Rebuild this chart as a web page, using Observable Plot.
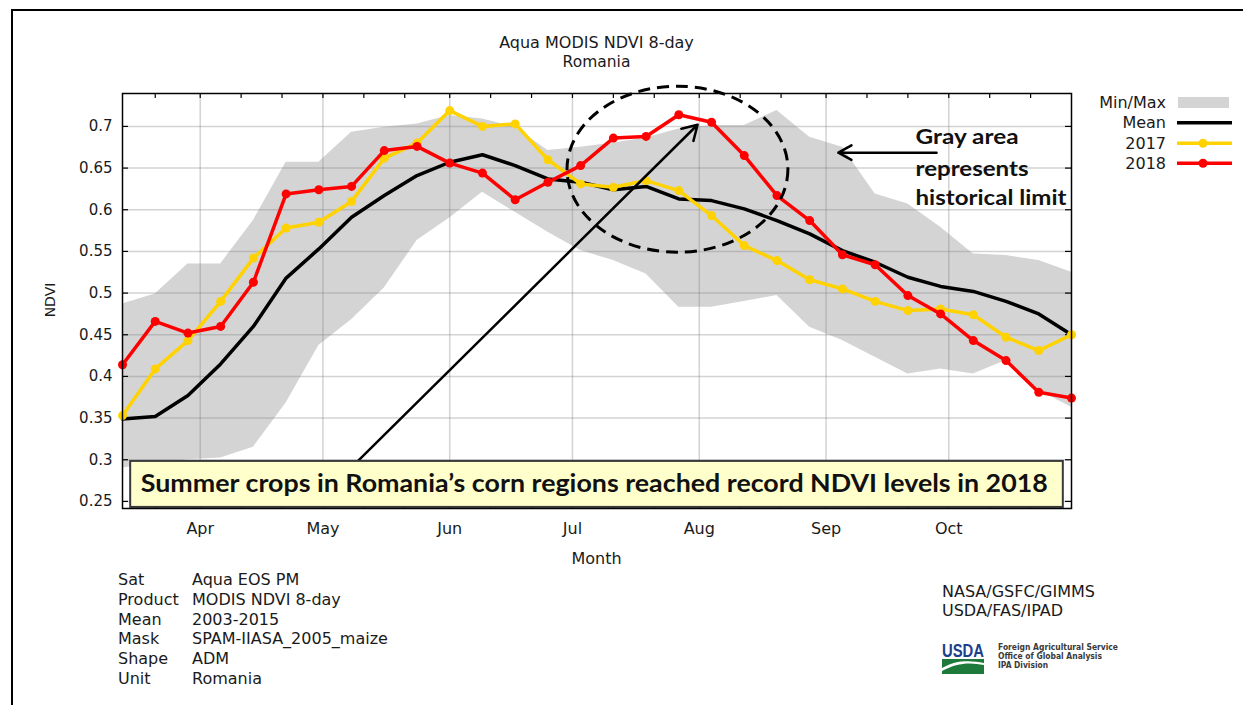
<!DOCTYPE html>
<html><head><meta charset="utf-8">
<script src="https://cdn.jsdelivr.net/npm/d3@7"></script>
<script src="https://cdn.jsdelivr.net/npm/@observablehq/plot@0.6"></script>
<style>
html,body{margin:0;padding:0;background:#fff;}
#wrap{position:relative;width:1243px;height:705px;overflow:hidden;background:#fff;}
#wrap > svg{position:absolute;left:0;top:0;}
#border{position:absolute;left:11px;top:9px;right:-5px;bottom:-5px;border-top:2.5px solid #000;border-left:2.5px solid #000;pointer-events:none;}
</style></head><body><div id="wrap"></div>
<script>
// ---- data ----
const dates = ["2018-03-13","2018-03-21","2018-03-29","2018-04-06","2018-04-14","2018-04-22","2018-04-30","2018-05-08","2018-05-16","2018-05-24",
  "2018-06-01","2018-06-09","2018-06-17","2018-06-25","2018-07-03","2018-07-11","2018-07-19","2018-07-27","2018-08-04","2018-08-12",
  "2018-08-20","2018-08-28","2018-09-05","2018-09-13","2018-09-21","2018-09-29","2018-10-07","2018-10-15","2018-10-23","2018-10-31"];
const meanNDVI = [0.349,0.352,0.377,0.415,0.460,0.518,0.553,0.591,0.617,0.641,0.657,0.666,0.653,0.637,0.633,0.624,0.628,0.613,0.611,0.601,0.587,0.571,0.551,0.537,0.519,0.508,0.502,0.490,0.475,0.450];
const ndvi2017 = [0.353,0.409,0.443,0.490,0.542,0.578,0.585,0.610,0.662,0.680,0.719,0.700,0.703,0.660,0.631,0.627,0.635,0.623,0.593,0.557,0.539,0.516,0.505,0.490,0.479,0.481,0.474,0.447,0.431,0.450];
const ndvi2018 = [0.414,0.466,0.452,0.460,0.513,0.619,0.624,0.628,0.671,0.676,0.656,0.644,0.612,0.633,0.653,0.686,0.688,0.714,0.705,0.665,0.617,0.587,0.546,0.534,0.497,0.475,0.443,0.419,0.381,0.374];
const histMin = [0.290,0.295,0.300,0.302,0.315,0.368,0.437,0.468,0.506,0.563,0.590,0.621,0.597,0.573,0.551,0.539,0.523,0.483,0.483,0.490,0.497,0.459,0.443,0.423,0.403,0.409,0.403,0.419,0.383,0.363];
const histMax = [0.487,0.499,0.535,0.535,0.587,0.657,0.657,0.693,0.699,0.703,0.713,0.709,0.699,0.671,0.675,0.680,0.686,0.697,0.701,0.701,0.719,0.687,0.675,0.619,0.607,0.579,0.547,0.545,0.539,0.525];
const monthTicks = ["2018-04-01","2018-05-01","2018-06-01","2018-07-01","2018-08-01","2018-09-01","2018-10-01"];
const dekadTicks = ["2018-03-21","2018-04-01","2018-04-11","2018-04-21","2018-05-01","2018-05-11","2018-05-21","2018-06-01","2018-06-11","2018-06-21",
  "2018-07-01","2018-07-11","2018-07-21","2018-08-01","2018-08-11","2018-08-21","2018-09-01","2018-09-11","2018-09-21","2018-10-01","2018-10-11","2018-10-21"];
const yTicks = [0.25,0.3,0.35,0.4,0.45,0.5,0.55,0.6,0.65,0.7];
const xDomain = ["2018-03-13","2018-10-31"];
const yDomain = [0.2415,0.7395];

// annotations (data coordinates)
const bigArrow = [{x1:"2018-05-09T11:00Z", y1:0.298, x2:"2018-07-31T14:00Z", y2:0.702}];
const smallArrow = [{x1:"2018-09-28T00:00Z", y1:0.6685, x2:"2018-09-04T00:00Z", y2:0.6685}];
const ellipseSpec = {cx:"2018-07-26T19:00Z", cy:0.648, left:"2018-06-29T19:00Z", top:0.7476};
const noteBox = [{x1:"2018-03-15T00:00Z", x2:"2018-10-29T00:00Z", y1:0.2428, y2:0.298}];
const noteText = [{x:"2018-07-06T08:00Z", y:0.2608, t:"Summer crops in Romania\u2019s corn regions reached record NDVI levels in 2018", len:907}];
const grayText = [
  {x:"2018-09-22T21:00Z", y:0.679, t:"Gray area", len:103},
  {x:"2018-09-22T21:00Z", y:0.641, t:"represents", len:113},
  {x:"2018-09-22T21:00Z", y:0.606, t:"historical limit", len:151}
];

const P = s => new Date(s);
const rows = dates.map((d,i)=>({date:P(d), mean:meanNDVI[i], y17:ndvi2017[i], y18:ndvi2018[i], lo:histMin[i], hi:histMax[i]}));
const months = monthTicks.map(P), dekads = dekadTicks.map(P);
const A = a => a.map(o => Object.fromEntries(Object.entries(o).map(([k,v]) => [k, (typeof v === "string" && /^\d{4}-/.test(v)) ? P(v) : v])));

const W = 1243, H = 705, ML = 122, MR = 172, MT = 93, MB = 197;
const innerW = W-ML-MR, innerH = H-MT-MB;

const ellipseMark = (index, scales) => {
  const cx = scales.x(P(ellipseSpec.cx)), cy = scales.y(ellipseSpec.cy);
  const rx = cx - scales.x(P(ellipseSpec.left)), ry = scales.y(ellipseSpec.top);
  return d3.create("svg:ellipse").attr("cx",cx).attr("cy",cy).attr("rx",rx).attr("ry",cy-ry)
    .attr("fill","none").attr("stroke","#000").attr("stroke-width",3).attr("stroke-dasharray","12,7").node();
};

const chart = Plot.plot({
  width: W, height: H, marginLeft: ML, marginRight: MR, marginTop: MT, marginBottom: MB,
  style: {fontFamily: "DejaVu Sans, sans-serif", fontSize: "15px", color: "#1a1a1a", background: "transparent"},
  x: {type: "utc", domain: xDomain.map(P), axis: null},
  y: {domain: yDomain, axis: null},
  marks: [
    Plot.areaY(rows, {x:"date", y1:"lo", y2:"hi", fill:"#d4d4d4"}),
    Plot.ruleX(months, {stroke:"#808080", strokeOpacity:0.35, strokeWidth:1.5}),
    Plot.ruleY(yTicks, {stroke:"#808080", strokeOpacity:0.35, strokeWidth:1.5}),
    Plot.tickX(dekads, {x:d=>d, insetBottom: innerH-5, stroke:"#000", strokeWidth:1.2}),
    Plot.tickX(dekads, {x:d=>d, insetTop: innerH-5, stroke:"#000", strokeWidth:1.2}),
    Plot.tickY(yTicks, {y:d=>d, insetRight: innerW-6, stroke:"#000", strokeWidth:1.2}),
    Plot.tickY(yTicks, {y:d=>d, insetLeft: innerW-6, stroke:"#000", strokeWidth:1.2}),
    Plot.line(rows, {x:"date", y:"mean", stroke:"#000", strokeWidth:3.5}),
    Plot.line(rows, {x:"date", y:"y17", stroke:"#ffd200", strokeWidth:3.5}),
    Plot.dot(rows, {x:"date", y:"y17", r:4.5, fill:"#ffd200"}),
    Plot.line(rows, {x:"date", y:"y18", stroke:"#ff0000", strokeWidth:3.5}),
    Plot.dot(rows, {x:"date", y:"y18", r:4.5, fill:"#ff0000"}),
    ellipseMark,
    Plot.arrow(A(bigArrow), {x1:"x1", y1:"y1", x2:"x2", y2:"y2", stroke:"#000", strokeWidth:2.5, headLength:10, headAngle:62}),
    Plot.arrow(A(smallArrow), {x1:"x1", y1:"y1", x2:"x2", y2:"y2", stroke:"#000", strokeWidth:2.5, headLength:9, headAngle:58}),
    Plot.rect(A(noteBox), {x1:"x1", x2:"x2", y1:"y1", y2:"y2", fill:"#ffffcc", stroke:"#3a3a3a", strokeWidth:2}),
    Plot.text(A(noteText), {x:"x", y:"y", text:"t", textAnchor:"middle", lineAnchor:"bottom", fontFamily:"Lato, sans-serif", fontWeight:"bold", fontSize:24, fill:"#111"}),
    Plot.text(A(grayText), {x:"x", y:"y", text:"t", textAnchor:"start", lineAnchor:"bottom", fontFamily:"Lato, sans-serif", fontWeight:"bold", fontSize:21, fill:"#111"}),
    Plot.frame({stroke:"#000", strokeWidth:1.5}),
    Plot.axisY(yTicks, {tickSize:0, tickPadding:10, fontSize:15, tickFormat: d => String(d), label:null}),
    Plot.axisX(months, {tickSize:0, tickPadding:14, fontSize:16, tickFormat:d3.utcFormat("%b"), label:null})
  ]
});
// exact text widths for the Calibri-like annotation text
const lens = Object.fromEntries([...noteText, ...grayText].map(d => [d.t, d.len]));
chart.querySelectorAll("text").forEach(t => {
  const L = lens[t.textContent];
  if (L) { t.setAttribute("textLength", L); t.setAttribute("lengthAdjust", "spacingAndGlyphs"); }
});
const wrap = document.getElementById("wrap");
wrap.appendChild(chart);

// ---- titles, legend, footer ----
const ov = d3.create("svg").attr("width", W).attr("height", H)
  .attr("font-family", "DejaVu Sans, sans-serif").attr("fill", "#1a1a1a").style("pointer-events","none");
const T = (x, y, s, size, anchor="start", extra={}) => {
  const t = ov.append("text").attr("x", x).attr("y", y).attr("font-size", size).attr("text-anchor", anchor).text(s);
  for (const [k,v] of Object.entries(extra)) t.attr(k, v);
  return t;
};
T(596.5, 48, "Aqua MODIS NDVI 8-day", 16, "middle");
T(596.5, 67, "Romania", 15.5, "middle");
T(0, 0, "NDVI", 14, "middle", {transform: "translate(55,300) rotate(-90)"});
T(596.5, 564, "Month", 16, "middle");

// legend
const legendLabels = ["Min/Max", "Mean", "2017", "2018"];
const legendBase = [108, 128, 148.5, 168.5];
legendLabels.forEach((s, i) => T(1166, legendBase[i], s, 16, "end"));
ov.append("rect").attr("x", 1178).attr("y", 97).attr("width", 51).attr("height", 11).attr("fill", "#d4d4d4");
ov.append("line").attr("x1", 1177).attr("x2", 1232).attr("y1", 122.7).attr("y2", 122.7).attr("stroke", "#000").attr("stroke-width", 3.5);
[[143.3, "#ffd200"], [163.3, "#ff0000"]].forEach(([y, c]) => {
  ov.append("line").attr("x1", 1177).attr("x2", 1232).attr("y1", y).attr("y2", y).attr("stroke", c).attr("stroke-width", 3.5);
  ov.append("circle").attr("cx", 1203).attr("cy", y).attr("r", 4.5).attr("fill", c);
});

// metadata footer
const metaKeys = ["Sat", "Product", "Mean", "Mask", "Shape", "Unit"];
const metaVals = ["Aqua EOS PM", "MODIS NDVI 8-day", "2003-2015", "SPAM-IIASA_2005_maize", "ADM", "Romania"];
const metaBase = [585, 605, 624.5, 644, 664, 683.5];
metaKeys.forEach((k, i) => { T(118, metaBase[i], k, 16); T(192, metaBase[i], metaVals[i], 16); });
T(942, 597, "NASA/GSFC/GIMMS", 16);
T(942, 616, "USDA/FAS/IPAD", 16);

// USDA logo
T(942, 657, "USDA", 18, "start", {"font-family": "Liberation Sans, sans-serif", "font-weight": "bold", fill: "#1d3f8c", textLength: 42, lengthAdjust: "spacingAndGlyphs"});
ov.append("rect").attr("x", 942).attr("y", 659).attr("width", 42).attr("height", 15).attr("fill", "#1e7a3a");
ov.append("path").attr("d", "M942,668 C955,660 970,660 984,663 L984,665 C970,662 956,663 942,671 Z").attr("fill", "#fff");
T(998, 650, "Foreign Agricultural Service", 8, "start", {"font-weight": "bold", fill: "#3a3a3a", textLength: 120, lengthAdjust: "spacingAndGlyphs"});
T(998, 659, "Office of Global Analysis", 8, "start", {"font-weight": "bold", fill: "#3a3a3a", textLength: 104, lengthAdjust: "spacingAndGlyphs"});
T(998, 668, "IPA Division", 8, "start", {"font-weight": "bold", fill: "#3a3a3a", textLength: 50, lengthAdjust: "spacingAndGlyphs"});
wrap.appendChild(ov.node());

const border = document.createElement("div");
border.id = "border";
wrap.appendChild(border);
</script></body></html>
